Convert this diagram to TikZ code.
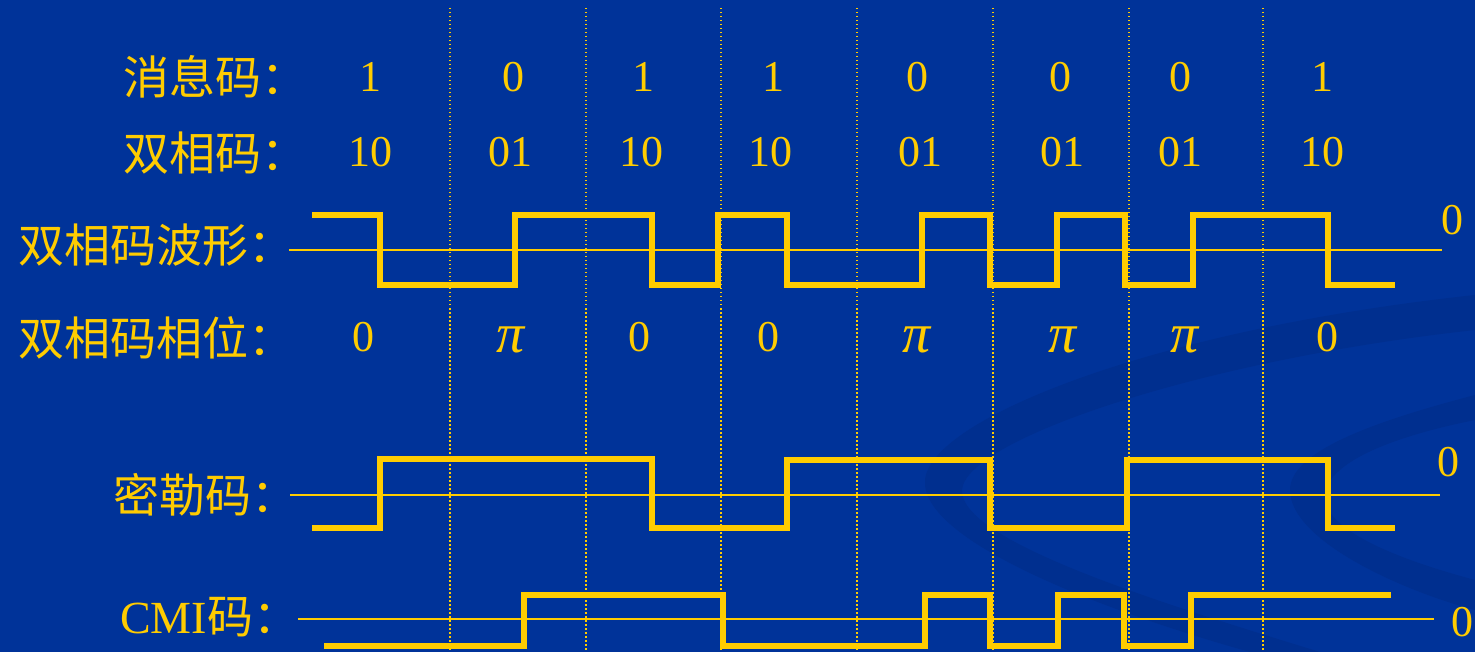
\documentclass[tikz,border=0pt]{standalone}
\usepackage{fontspec}
\setmainfont{Liberation Serif}
\newfontfamily\cjk{Noto Sans CJK SC}
\definecolor{bg}{RGB}{0,51,153}
\definecolor{gold}{RGB}{255,204,0}
\definecolor{swoosh}{RGB}{0,47,143}
\tikzset{
  lbl/.style={text=gold, font=\cjk\fontsize{46}{50}\selectfont, inner sep=0pt, anchor=west},
  val/.style={text=gold, font=\fontsize{44}{50}\selectfont, inner sep=0pt},
  pival/.style={text=gold, font=\fontsize{56}{60}\selectfont\itshape, inner sep=0pt},
  wave/.style={draw=gold, line width=6.5pt, line join=miter, line cap=butt},
  axisline/.style={draw=gold, line width=2pt},
  gridline/.style={draw=gold, line width=1.5pt, dash pattern=on 1.5pt off 2.5pt},
}
\begin{document}
\begin{tikzpicture}[x=1pt,y=-1pt]
\fill[bg] (0,0) rectangle (1475,652);
\useasboundingbox (0,0) rectangle (1475,652);
% background swooshes
\fill[swoosh] (1475,295) .. controls (1150,330) and (930,420) .. (925,480)
  .. controls (920,540) and (1100,610) .. (1250,652) -- (1320,652)
  .. controls (1150,600) and (960,540) .. (962,490)
  .. controls (965,440) and (1200,360) .. (1475,330) -- cycle;
\fill[swoosh] (1475,395) .. controls (1380,420) and (1290,450) .. (1290,490)
  .. controls (1290,540) and (1400,590) .. (1475,610) -- (1475,580)
  .. controls (1400,560) and (1322,530) .. (1325,495)
  .. controls (1328,460) and (1400,435) .. (1475,420) -- cycle;
% dotted bit boundaries
\foreach \x [count=\i] in {450,586,721,857,993,1129,1263}
  \draw[gridline] (\x,8) coordinate (gt\i) -- (\x,652) coordinate (gb\i);
% axis lines
\draw[axisline] (289,250) coordinate (a1s) -- (1442,250) coordinate (a1e);
\draw[axisline] (290,495) coordinate (a2s) -- (1440,495) coordinate (a2e);
\draw[axisline] (298,619) coordinate (a3s) -- (1434,619) coordinate (a3e);
% biphase waveform
\draw[wave] (312,215) -| (380,285) -| (515,215) -| (652,285) -| (718,215)
  -| (787,285) -| (922,215) -| (990,285) -| (1057,215) -| (1125,285)
  -| (1193,215) -| (1328,285) -- (1395,285);
% Miller waveform
\draw[wave] (312,528) -| (380,459) -| (652,528) -| (787,460) -| (990,528)
  -| (1127,460) -| (1328,528) -- (1395,528);
% CMI waveform
\draw[wave] (324,646) -| (524,595) -| (723,646) -| (925,595) -| (990,646)
  -| (1058,595) -| (1124,646) -| (1191,595) -- (1391,595);
% labels
\node[lbl] (l1) at (123,77) {消息码：};
\node[lbl] (l2) at (123,153) {双相码：};
\node[lbl] (l3) at (18,245) {双相码波形：};
\node[lbl] (l4) at (18,338) {双相码相位：};
\node[lbl] (l5) at (113,495) {密勒码：};
\node[lbl] (l6) at (120,617) {{\rmfamily CMI}码：};
% values
\foreach \x/\t [count=\i] in {370/1,513/0,643/1,773/1,917/0,1060/0,1180/0,1322/1}
  \node[val] (m\i) at (\x,77) {\t};
\foreach \x/\t [count=\i] in {370/10,510/01,641/10,770/10,920/01,1062/01,1180/01,1322/10}
  \node[val] (b\i) at (\x,152) {\t};
\foreach \x [count=\i] in {363,639,768,1327}
  \node[val] (p\i) at (\x,337) {0};
\foreach \x [count=\i] in {511,917,1063,1185}
  \node[pival] (q\i) at (\x,340) {π};
\node[val] (z1) at (1452,220) {0};
\node[val] (z2) at (1448,462) {0};
\node[val] (z3) at (1462,622) {0};
\end{tikzpicture}
\end{document}
